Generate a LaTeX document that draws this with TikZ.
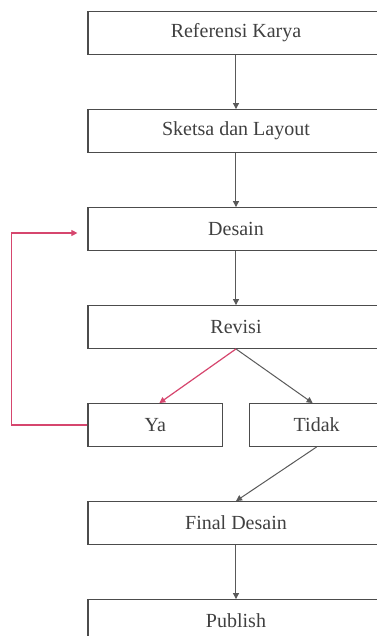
\documentclass[tikz,border=0pt]{standalone}
\usepackage{fontspec}
\setmainfont{Liberation Serif}
\newfontfamily\boxfont{Liberation Serif}
\usetikzlibrary{arrows.meta}
\definecolor{loopred}{RGB}{214,70,110}

\begin{document}
\begin{tikzpicture}[->,>={Triangle[length=4.5pt,width=4.5pt]},auto,node distance=73.5pt,
  step box/.style={rectangle,draw=black!70,line width=0.9pt,text=black!75,
  font=\boxfont\fontsize{15}{18}\selectfont,minimum width=222pt,minimum height=32pt,inner sep=0pt},
  small box/.style={step box,minimum width=101pt}]

  \useasboundingbox (-177pt,24.75pt) rectangle (105.75pt,-452.25pt);
  \clip (-177pt,24.75pt) rectangle (105.75pt,-452.25pt);

  \node[step box] (ref) {Referensi Karya};
  \node[step box] (sketsa) [below of=ref] {Sketsa dan Layout};
  \node[step box] (desain) [below of=sketsa] {Desain};
  \node[step box] (revisi) [below of=desain] {Revisi};
  \node[small box] (ya) [below of=revisi,xshift=-60.5pt] {Ya};
  \node[small box] (tidak) [below of=revisi,xshift=60.5pt] {Tidak};
  \node[step box] (final) [below of=revisi,yshift=-73.5pt] {Final Desain};
  \node[step box] (publish) [below of=final] {Publish};

  \coordinate (back) at ([xshift=-57pt]ya.west);

  \path[every edge/.style={draw=black!65,line width=0.75pt}]
    (ref) edge (sketsa)
    (sketsa) edge (desain)
    (desain) edge (revisi)
    (revisi.south) edge ([xshift=-3pt]tidak.north)
    (tidak.south) edge (final.north)
    (final) edge (publish);

  % jalur revisi kembali ke desain
  \draw[draw=loopred,fill=loopred,line width=0.9pt] (revisi.south) -- ([xshift=3pt]ya.north);
  \draw[draw=loopred,line width=0.9pt,shorten >=7.5pt] (ya.west) -- (back) |- ([yshift=-3pt]desain.west);
\end{tikzpicture}
\end{document}
